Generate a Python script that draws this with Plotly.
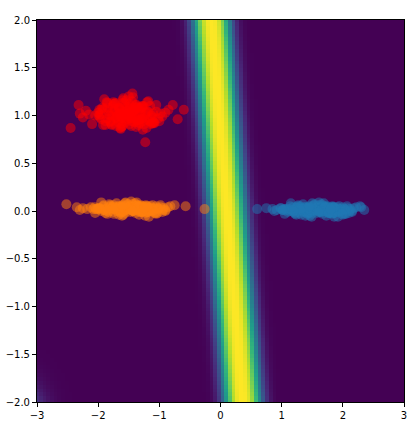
import numpy as np
import plotly.graph_objects as go

# ---- scatter clusters ----
red_x = [-1.55,-1.42,-1.68,-1.30,-1.80,-1.50,-1.61,-1.37,-1.92,-1.20,
         -1.47,-1.73,-1.58,-1.25,-1.85,-1.40,-1.65,-1.10,-2.00,-1.52,
         -1.33,-1.77,-1.45,-1.62,-1.05,-2.10,-1.28,-1.70,-1.56,-1.38,
         -1.95,-1.15,-1.49,-1.82,-1.35,-1.66,-0.95,-2.20,-1.44,-1.59,
         -1.22,-1.88,-1.53,-1.31,-1.75,-1.00,-2.05,-1.41,-1.64,-1.18,
         -2.45,-0.60,-1.90,-1.27,-0.85,-2.30,-1.50,-1.12,-1.97,-0.78,
         -2.15,-1.60,-1.36,-1.71,-0.90,-1.84,-1.46,-1.23,-2.32,-0.70,
         -1.57,-1.09,-1.99,-1.43,-1.78,-1.34,-2.25,-0.98,-1.63,-1.48,
         -1.50,-1.35,-1.65,-1.25,-1.75,-1.45,-1.55,-1.40,-1.85,-1.15,
         -1.60,-1.30,-1.70,-1.20,-1.80,-1.48,-1.38,-1.62,-1.05,-1.95,
         -1.52,-1.33,-1.68,-1.28,-1.78,-1.43,-1.58,-1.18,-1.88,-1.10,
         -1.47,-1.37,-1.63,-1.23,-1.73,-1.53,-1.42,-1.67,-1.13,-1.90,
         -1.56,-1.32,-1.72,-1.27,-1.83,-1.46,-1.36,-1.61,-1.08,-1.98,
         -1.51,-1.29,-1.66,-1.21,-1.76,-1.44,-1.57,-1.16,-1.86,-1.02,
         -1.49,-1.39,-1.64,-1.24,-1.74,-1.54,-1.41,-1.69,-1.11,-1.93,
         -1.59,-1.34,-1.71,-1.26,-1.81,-1.45,-1.31,-1.60,-1.14,-1.97]
red_y = [1.00,1.05,0.96,1.08,0.93,1.02,0.98,1.11,0.90,1.04,
         0.97,1.07,1.01,0.94,1.13,0.99,1.06,0.92,1.03,1.09,
         0.95,1.00,1.15,0.97,1.04,0.91,1.10,0.98,1.02,0.88,
         1.06,0.96,1.12,1.01,0.93,1.08,0.99,1.05,1.23,1.18,
         1.03,0.90,1.07,0.97,1.14,0.94,1.00,1.09,0.87,1.04,
         0.87,1.06,1.17,0.85,1.06,1.02,1.20,0.92,0.98,1.11,
         1.01,1.16,0.95,0.89,1.03,1.08,0.97,0.72,1.11,0.96,
         1.13,0.93,1.00,1.19,0.91,1.07,0.98,1.02,0.86,1.10,
         1.03,0.95,1.08,0.91,1.12,1.00,0.93,1.06,0.97,1.10,
         0.89,1.04,0.99,1.14,0.94,1.07,1.01,0.88,1.11,0.96,
         1.05,0.92,1.00,1.09,0.90,1.04,0.97,1.15,0.94,1.02,
         0.99,1.08,0.91,1.01,1.12,0.96,1.05,0.93,1.00,1.07,
         0.95,1.03,1.13,0.97,1.04,0.89,1.09,1.00,0.92,1.06,
         1.01,0.96,1.07,0.87,1.10,0.98,1.04,0.94,1.14,0.97,
         0.91,1.11,1.02,0.95,1.05,1.16,0.93,1.03,0.98,1.08,
         1.04,0.90,0.97,1.10,1.00,0.94,1.07,1.13,0.91,1.01]

orange_x = [-1.50,-1.38,-1.62,-1.25,-1.75,-1.45,-1.57,-1.30,-1.88,-1.15,
            -1.42,-1.68,-1.53,-1.20,-1.82,-1.35,-1.60,-1.05,-1.98,-1.48,
            -1.28,-1.72,-1.40,-1.58,-0.98,-2.05,-1.22,-1.65,-1.52,-1.33,
            -1.92,-1.10,-1.44,-1.78,-1.30,-1.62,-0.90,-2.12,-1.39,-1.55,
            -1.18,-1.85,-1.47,-1.26,-1.70,-0.95,-2.00,-1.36,-1.59,-1.12,
            -2.52,-0.26,-1.95,-1.23,-0.82,-2.25,-1.46,-1.08,-1.90,-0.75,
            -2.18,-1.56,-1.32,-1.66,-0.86,-1.80,-1.43,-1.17,-2.35,-0.57,
            -1.51,-1.03,-2.08,-1.37,-1.74,-1.29,-2.30,-0.93,-1.61,-1.41,
            -1.48,-1.30,-1.66,-1.18,-1.80,-1.42,-1.56,-1.36,-1.92,-1.08,
            -1.60,-1.24,-1.72,-1.14,-1.86,-1.46,-1.33,-1.63,-0.98,-2.02,
            -1.52,-1.27,-1.69,-1.21,-1.83,-1.40,-1.58,-1.11,-1.95,-1.02,
            -1.45,-1.34,-1.64,-1.17,-1.77,-1.54,-1.38,-1.70,-1.05,-1.98,
            -1.57,-1.26,-1.75,-1.20,-1.89,-1.43,-1.31,-1.61,-0.94,-2.06,
            -1.50,-1.22,-1.67,-1.13,-1.81,-1.41,-1.59,-1.09,-1.91,-0.90,
            -1.47,-1.35,-1.65,-1.16,-1.78,-1.55,-1.37,-1.73,-1.01,-2.00,
            -1.62,-1.28,-1.74,-1.19,-1.85,-1.44,-1.25,-1.60,-1.06,-2.04]
orange_y = [0.02,0.04,0.00,0.05,-0.01,0.03,0.01,0.06,-0.02,0.03,
            0.00,0.05,0.02,-0.01,0.07,0.01,0.04,-0.03,0.03,0.05,
            -0.01,0.02,0.08,0.00,0.04,-0.02,0.06,0.01,0.03,-0.04,
            0.05,0.00,0.07,0.02,-0.01,0.05,0.01,0.04,-0.02,0.09,
            0.03,-0.03,0.05,0.00,0.08,-0.01,0.02,0.06,-0.04,0.03,
            0.07,0.02,0.09,-0.05,0.05,0.03,0.10,-0.02,0.01,0.06,
            0.02,0.08,-0.01,-0.04,0.04,0.06,0.00,-0.06,0.04,0.05,
            0.07,-0.02,0.02,0.09,-0.03,0.05,0.01,0.03,-0.05,0.06,
            0.03,0.00,0.05,-0.01,0.04,0.02,-0.02,0.06,0.01,0.03,
            -0.01,0.04,0.02,0.05,0.00,0.03,0.01,-0.02,0.06,0.02,
            0.04,0.00,0.03,0.05,-0.01,0.02,0.01,0.06,0.00,0.03,
            0.02,0.05,-0.01,0.03,0.04,0.01,0.02,0.00,0.05,0.03,
            0.01,0.04,0.06,-0.01,0.02,0.00,0.05,0.03,0.01,0.04,
            0.02,-0.02,0.04,0.00,0.05,0.02,0.03,0.01,0.06,0.00,
            -0.01,0.05,0.02,0.00,0.03,0.06,0.01,0.04,0.02,0.03,
            0.04,-0.01,0.02,0.05,0.01,0.00,0.03,0.06,-0.02,0.02]

blue_x = [1.55,1.68,1.42,1.80,1.30,1.60,1.48,1.75,1.22,1.90,
          1.63,1.37,1.52,1.85,1.27,1.70,1.45,2.00,1.12,1.58,
          1.78,1.33,1.65,1.47,2.08,1.05,1.83,1.40,1.57,1.73,
          1.18,1.95,1.62,1.28,1.76,1.44,2.15,0.98,1.67,1.50,
          1.88,1.24,1.59,1.81,1.35,2.10,1.08,1.71,1.46,1.93,
          0.60,2.35,1.15,1.86,2.22,0.85,1.61,2.03,1.20,2.28,
          0.92,1.54,1.79,1.39,2.18,1.26,1.66,1.92,0.75,2.30,
          1.53,2.05,1.02,1.69,1.32,1.84,0.88,2.12,1.49,1.64,
          1.57,1.75,1.39,1.87,1.25,1.63,1.49,1.69,1.13,1.97,
          1.45,1.81,1.33,1.91,1.19,1.59,1.72,1.42,2.07,1.03,
          1.53,1.78,1.36,1.84,1.22,1.65,1.47,1.94,1.10,2.03,
          1.60,1.71,1.41,1.88,1.28,1.51,1.67,1.35,2.00,1.07,
          1.48,1.79,1.30,1.85,1.16,1.62,1.74,1.44,2.11,0.99,
          1.55,1.83,1.38,1.92,1.24,1.64,1.46,1.96,1.14,2.15,
          1.58,1.70,1.40,1.89,1.27,1.50,1.68,1.32,2.04,1.05,
          1.43,1.77,1.31,1.86,1.20,1.61,1.80,1.45,1.99,1.01]
blue_y = [0.01,0.03,-0.01,0.04,-0.02,0.02,0.00,0.05,-0.03,0.02,
          -0.01,0.04,0.01,-0.02,0.06,0.00,0.03,-0.04,0.02,0.04,
          -0.02,0.01,0.07,-0.01,0.03,-0.03,0.05,0.00,0.02,-0.05,
          0.04,-0.01,0.06,0.01,-0.02,0.04,0.00,0.03,-0.03,0.08,
          0.02,-0.04,0.04,-0.01,0.07,-0.02,0.01,0.05,-0.05,0.02,
          0.02,0.01,0.08,-0.06,0.04,0.02,0.09,-0.03,0.00,0.05,
          0.01,0.07,-0.02,-0.05,0.03,0.05,-0.01,-0.06,0.03,0.04,
          0.06,-0.03,0.01,0.08,-0.04,0.04,0.00,0.02,-0.06,0.05,
          0.02,-0.01,0.04,-0.02,0.03,0.01,-0.03,0.05,0.00,0.02,
          -0.02,0.03,0.01,0.04,-0.01,0.02,0.00,-0.03,0.05,0.01,
          0.03,-0.01,0.02,0.04,-0.02,0.01,0.00,0.05,-0.01,0.02,
          0.01,0.04,-0.02,0.02,0.03,0.00,0.01,-0.01,0.04,0.02,
          0.00,0.03,0.05,-0.02,0.01,-0.01,0.04,0.02,0.00,0.03,
          0.01,-0.03,0.03,-0.01,0.04,0.01,0.02,0.00,0.05,-0.01,
          -0.02,0.04,0.01,-0.01,0.02,0.05,0.00,0.03,0.01,0.02,
          0.03,-0.02,0.01,0.04,0.00,-0.01,0.02,0.05,-0.03,0.01]

# ---- background field: a slanted band (centre read at top and bottom edges) ----
band_top = (-0.15, 2.0)     # band centre (x, y) at the top edge
band_bottom = (0.36, -2.0)  # band centre (x, y) at the bottom edge
band_halfwidth = 0.31
band_sharpness = 2.7
corner_centre = (-3.3, -2.3)
corner_amp = 0.5

x_ticks = [-3, -2, -1, 0, 1, 2, 3]
y_ticks = [-2.0, -1.5, -1.0, -0.5, 0.0, 0.5, 1.0, 1.5, 2.0]

gx = np.linspace(-3, 3, 100)
gy = np.linspace(-2, 2, 100)
XX, YY = np.meshgrid(gx, gy)
slope = (band_top[0] - band_bottom[0]) / (band_top[1] - band_bottom[1])
xc = band_bottom[0] + slope * (YY - band_bottom[1])
Z = np.exp(-np.abs((XX - xc) / band_halfwidth) ** band_sharpness)
Z = Z + corner_amp * np.exp(-((XX - corner_centre[0]) ** 2 + (YY - corner_centre[1]) ** 2) / 0.15)
Z = np.clip(Z, 0, 1)

fig = go.Figure()
fig.add_trace(go.Heatmap(x=gx, y=gy, z=Z, colorscale="Viridis", zmin=0, zmax=1,
                         zsmooth=False, showscale=False, hoverinfo="skip"))

for xs, ys, col in [(blue_x, blue_y, "#1f77b4"), (orange_x, orange_y, "#ff7f0e"),
                    (red_x, red_y, "#ff0000")]:
    fig.add_trace(go.Scatter(x=xs, y=ys, mode="markers",
                             marker=dict(color=col, size=10, opacity=0.5, line=dict(width=0)),
                             showlegend=False, cliponaxis=True))

axis_common = dict(showline=True, linecolor="black", linewidth=1, mirror=True,
                   ticks="outside", ticklen=4, tickcolor="black", showgrid=False,
                   zeroline=False, automargin=False,
                   tickfont=dict(family="DejaVu Sans", size=10, color="black"))
fig.update_xaxes(range=[-3, 3], tickvals=x_ticks, **axis_common)
fig.update_yaxes(range=[-2, 2], tickvals=y_ticks, tickformat=".1f", **axis_common)
fig.update_layout(width=419, height=423, margin=dict(l=37, r=15, t=20, b=21),
                  paper_bgcolor="white", plot_bgcolor="#440154")
fig.write_html("out.html", config={"displayModeBar": False},
               post_script="document.body.style.margin='0';document.body.style.overflow='hidden';")
